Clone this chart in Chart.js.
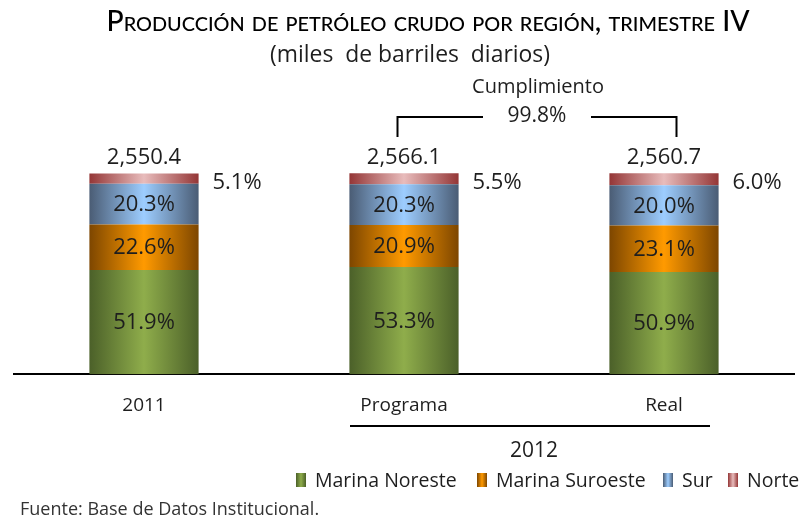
<!DOCTYPE html>
<html>
<head>
<meta charset="utf-8">
<script src="https://cdn.jsdelivr.net/npm/chart.js@4.4.1/dist/chart.umd.min.js"></script>
<style>
  body { margin: 0; background: #fff; }
  canvas { display: block; }
</style>
</head>
<body>
<canvas id="chartPetroleo" width="807" height="519"></canvas>
<script>
// datos (porcentaje de cada región sobre el total)
const categorias = ['2011', 'Programa', 'Real'];
const marinaNoreste = [51.9, 53.3, 50.9];
const marinaSuroeste = [22.6, 20.9, 23.1];
const sur = [20.3, 20.3, 20.0];
const norte = [5.1, 5.5, 6.0];
const totales = [2550.4, 2566.1, 2560.7];
const cumplimiento = 99.8;

const fuente = "'Open Sans', 'DejaVu Sans', sans-serif";
const ANCHO_BARRA = 0.42;

const colores = {
    noreste: ['#4b6029', '#8fad4b'],
    suroeste: ['#7d4600', '#ff9a00'],
    sur: ['#4a5c74', '#9dcdff'],
    norte: ['#943636', '#e8bcbc']
};

const degradado = (c, par) => {
    const chart = c.chart;
    if (!chart.chartArea || c.dataIndex === undefined) return par[1];
    const xs = chart.scales.x;
    const cx = xs.getPixelForValue(c.dataIndex);
    const mitad = xs.width / categorias.length * ANCHO_BARRA / 2;
    const g = chart.ctx.createLinearGradient(cx - mitad, 0, cx + mitad, 0);
    g.addColorStop(0, par[0]);
    g.addColorStop(0.5, par[1]);
    g.addColorStop(1, par[0]);
    return g;
}

const fmtTotal = v => v.toLocaleString('en-US', { minimumFractionDigits: 1, maximumFractionDigits: 1 });

const textos = {
    id: 'textos',
    afterDatasetsDraw(chart) {
        const ctx = chart.ctx;
        const xs = chart.scales.x;
        ctx.save();
        ctx.fillStyle = '#1e1e1e';
        ctx.textAlign = 'center';
        ctx.textBaseline = 'middle';

        // porcentajes dentro de las barras
        ctx.font = `22px ${fuente}`;
        [0, 1, 2].forEach(d => {
            const meta = chart.getDatasetMeta(d);
            meta.data.forEach((el, i) => {
                const v = chart.data.datasets[d].data[i];
                ctx.fillText(v.toFixed(1) + '%', el.x, (el.y + el.base) / 2 + 1);
            });
        });

        // Norte a la derecha y total arriba
        const metaN = chart.getDatasetMeta(3);
        metaN.data.forEach((el, i) => {
            ctx.fillText(norte[i].toFixed(1) + '%', el.x + 93, el.y + 9);
            ctx.fillText(fmtTotal(totales[i]), el.x, el.y - 16);
        });

        // cumplimiento
        const x1 = xs.getPixelForValue(1), x2 = xs.getPixelForValue(2);
        const cxm = (x1 + x2) / 2 + 3;
        ctx.font = `20px ${fuente}`;
        ctx.fillText('Cumplimiento', cxm + 1, 87);
        ctx.font = `21px ${fuente}`;
        ctx.fillText(cumplimiento.toFixed(1) + '%', cxm, 116);
        ctx.strokeStyle = '#000';
        ctx.lineWidth = 2;
        ctx.beginPath();
        ctx.moveTo(x1 - 6.5, 137); ctx.lineTo(x1 - 6.5, 117); ctx.lineTo(cxm - 54, 117);
        ctx.moveTo(cxm + 54, 117); ctx.lineTo(x2 + 12.5, 117); ctx.lineTo(x2 + 12.5, 137);
        ctx.stroke();

        // subrayado 2012
        ctx.beginPath();
        ctx.moveTo(x1 - 54, 426); ctx.lineTo(x2 + 46, 426);
        ctx.stroke();
        ctx.font = `21px ${fuente}`;
        ctx.fillText('2012', cxm - 3, 451);

        // título
        ctx.font = `small-caps 500 28.5px Lato, ${fuente}`;
        ctx.textBaseline = 'alphabetic';
        ctx.fillStyle = '#000';
        ctx.fillText('Producción de petróleo crudo por región, trimestre IV', 428, 31, 643);
        ctx.font = `23px ${fuente}`;
        ctx.fillStyle = '#1e1e1e';
        ctx.fillText('(miles  de barriles  diarios)', 410, 62, 280);

        // leyenda
        const items = [
            ['Marina Noreste', colores.noreste, 296],
            ['Marina Suroeste', colores.suroeste, 477],
            ['Sur', colores.sur, 663],
            ['Norte', colores.norte, 728]
        ];
        ctx.font = `19.5px ${fuente}`;
        ctx.textAlign = 'left';
        ctx.textBaseline = 'middle';
        items.forEach(([txt, par, x]) => {
            const g = ctx.createLinearGradient(x, 0, x + 10, 0);
            g.addColorStop(0, par[0]); g.addColorStop(0.5, par[1]); g.addColorStop(1, par[0]);
            ctx.fillStyle = g;
            ctx.fillRect(x, 473, 10, 14);
            ctx.fillStyle = '#1e1e1e';
            ctx.fillText(txt, x + 19, 481);
        });

        // fuente
        ctx.font = `18px ${fuente}`;
        ctx.fillStyle = '#333';
        ctx.fillText('Fuente: Base de Datos Institucional.', 20, 510);
        ctx.restore();
    }
}

const canvas = document.getElementById('chartPetroleo');
const context = canvas.getContext('2d');

const chartPetroleo = new Chart(context, {
    type: 'bar',
    data: {
        labels: categorias,
        datasets: [
            { label: 'Marina Noreste', data: marinaNoreste, backgroundColor: c => degradado(c, colores.noreste) },
            { label: 'Marina Suroeste', data: marinaSuroeste, backgroundColor: c => degradado(c, colores.suroeste) },
            { label: 'Sur', data: sur, backgroundColor: c => degradado(c, colores.sur) },
            { label: 'Norte', data: norte, backgroundColor: c => degradado(c, colores.norte) }
        ]
    },
    options: {
        responsive: false,
        animation: false,
        events: [],
        categoryPercentage: 1,
        barPercentage: ANCHO_BARRA,
        layout: { padding: { left: 14, right: 13, top: 113, bottom: 82 } },
        plugins: {
            legend: { display: false },
            title: { display: false },
            tooltip: { enabled: false }
        },
        scales: {
            x: {
                stacked: true,
                grid: { display: false, drawTicks: false },
                border: { display: true, color: '#000', width: 2 },
                ticks: { color: '#1e1e1e', padding: 20, font: { size: 19, family: fuente } }
            },
            y: {
                stacked: true,
                display: false,
                min: 0,
                max: 130
            }
        }
    },
    plugins: [textos]
});
</script>
</body>
</html>
